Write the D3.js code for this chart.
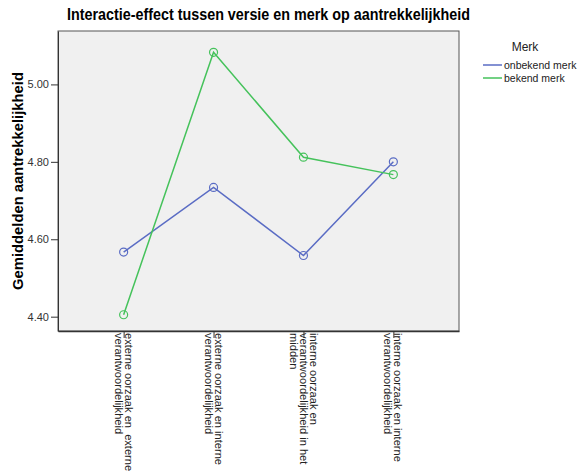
<!DOCTYPE html>
<html><head><meta charset="utf-8">
<script src="https://cdn.jsdelivr.net/npm/d3@7"></script>
<style>
body{margin:0;background:#fff;}
svg{display:block;font-family:"Liberation Sans",Arial,sans-serif;}
</style></head>
<body><svg id="c" width="579" height="475"></svg>
<script>
const categories = [
  ["externe oorzaak en  externe", "verantwoordelijkheid"],
  ["externe oorzaak en interne", "verantwoordelijkheid"],
  ["interne oorzaak en", "verantwoordelijkheid in het", "midden"],
  ["interne oorzaak en interne", "verantwoordelijkheid"]
];
const seriesNames = ["onbekend merk", "bekend merk"];
const onbekendValues = [4.567, 4.734, 4.558, 4.800];
const bekendValues = [4.405, 5.083, 4.812, 4.767];
const yTicks = [4.40, 4.60, 4.80, 5.00];
const yDomain = [4.363, 5.138];
const colors = ["#5a6cc4", "#45c25b"];
const titleText = "Interactie-effect tussen versie en merk op aantrekkelijkheid";
const yLabel = "Gemiddelden aantrekkelijkheid";
const legendTitle = "Merk";

const svg = d3.select("#c");
const L = 58, R = 459, T = 31, B = 331;

svg.append("text").attr("x", 268.5).attr("y", 20).attr("text-anchor", "middle")
  .attr("font-size", 16).attr("font-weight", "bold").attr("fill", "#000")
  .attr("textLength", 403).attr("lengthAdjust", "spacingAndGlyphs").text(titleText);

svg.append("rect").attr("x", L).attr("y", T).attr("width", R - L).attr("height", B - T)
  .attr("fill", "#f0f0f0").attr("stroke", "#555").attr("stroke-width", 1);

const idx = categories.map((d, i) => i);
const x = d3.scalePoint().domain(idx).range([L, R]).padding(0.73);
const y = d3.scaleLinear().domain(yDomain).range([B, T]);

// y axis
const yAxis = svg.append("g").attr("transform", `translate(${L},0)`)
  .call(d3.axisLeft(y).tickValues(yTicks).tickFormat(d3.format(".2f")).tickSizeInner(7).tickSizeOuter(0).tickPadding(2));
yAxis.select(".domain").attr("stroke", "#333");
yAxis.selectAll(".tick line").attr("stroke", "#333");
yAxis.selectAll(".tick text").attr("font-size", 11).attr("fill", "#333")
  .attr("font-family", "Liberation Sans, Arial, sans-serif");

// x axis
const xAxis = svg.append("g").attr("transform", `translate(0,${B})`)
  .call(d3.axisBottom(x).tickSizeInner(7).tickSizeOuter(0).tickFormat(""));
xAxis.select(".domain").attr("stroke", "#333").attr("stroke-width", 1.5);
xAxis.selectAll(".tick line").attr("stroke", "#333");
xAxis.selectAll(".tick text").remove();

const lh = 10;
idx.forEach(i => {
  const lines = categories[i];
  const g = svg.append("g").attr("transform", `translate(${x(i)},${B + 2}) rotate(90)`);
  lines.forEach((ln, j) => {
    g.append("text").attr("x", 0).attr("y", (j - (lines.length - 1) / 2) * lh)
      .attr("dy", "0.35em").attr("font-size", 11.1).attr("fill", "#222")
      .style("white-space", "pre").text(ln);
  });
});

// y label
svg.append("text").attr("transform", `translate(23,181) rotate(-90)`)
  .attr("text-anchor", "middle").attr("font-size", 15).attr("font-weight", "bold")
  .attr("textLength", 218).attr("lengthAdjust", "spacingAndGlyphs").text(yLabel);

// series
const series = [onbekendValues, bekendValues];
const line = d3.line().x((d, i) => x(i)).y(d => y(d));
series.forEach((vals, s) => {
  svg.append("path").datum(vals).attr("d", line).attr("fill", "none")
    .attr("stroke", colors[s]).attr("stroke-width", 1.5);
  svg.selectAll(null).data(vals).enter().append("circle")
    .attr("cx", (d, i) => x(i)).attr("cy", d => y(d)).attr("r", 4)
    .attr("fill", "none").attr("stroke", colors[s]).attr("stroke-width", 1.2);
});

// legend
svg.append("text").attr("x", 525).attr("y", 51).attr("text-anchor", "middle")
  .attr("font-size", 12).attr("fill", "#222").text(legendTitle);
seriesNames.forEach((n, s) => {
  const yy = 65 + s * 13;
  svg.append("line").attr("x1", 483).attr("x2", 502).attr("y1", yy).attr("y2", yy)
    .attr("stroke", colors[s]).attr("stroke-width", 1.5);
  svg.append("text").attr("x", 504).attr("y", yy).attr("dy", "0.35em")
    .attr("font-size", 10.5).attr("fill", "#222").text(n);
});
</script></body></html>
